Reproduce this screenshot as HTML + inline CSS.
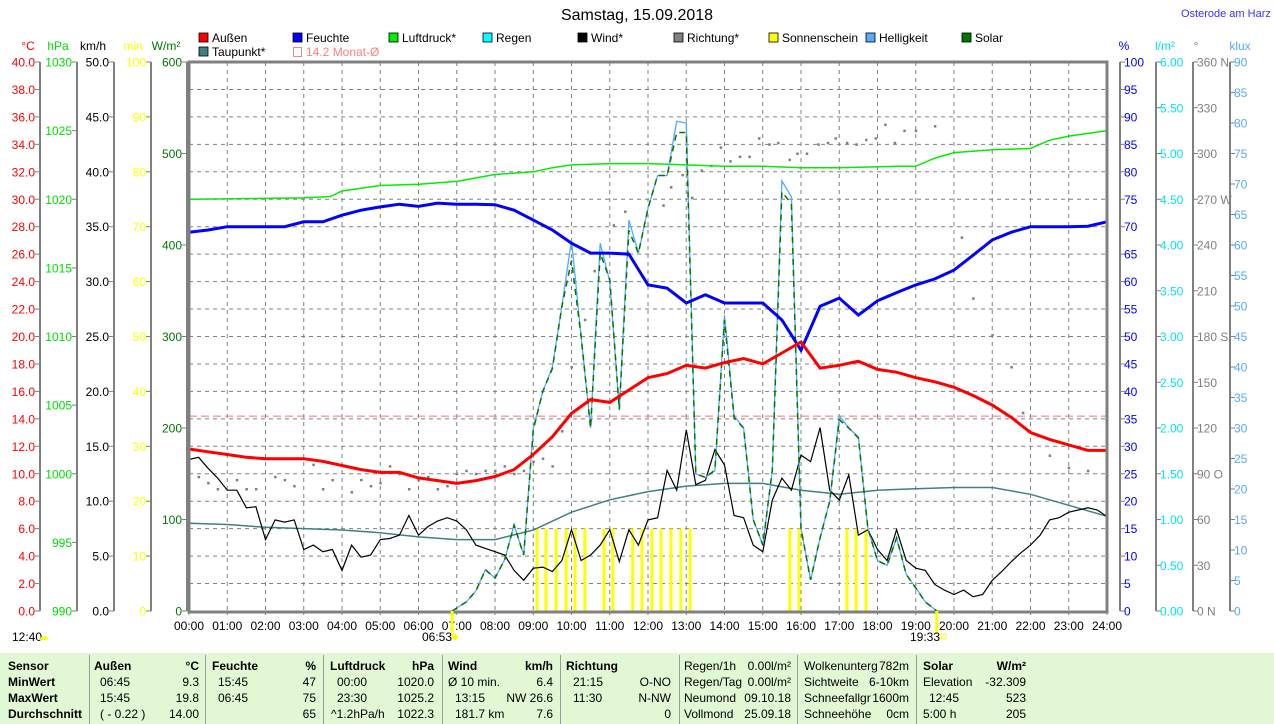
<!DOCTYPE html>
<html><head><meta charset="utf-8">
<style>
body{margin:0;background:#fff;width:1274px;height:724px;overflow:hidden;font-family:"Liberation Sans",sans-serif;}
#wrap{position:relative;width:1274px;height:724px;}
svg{position:absolute;left:0;top:0;}
.t{position:absolute;font-size:12px;white-space:nowrap;line-height:14px;}
.b{font-weight:bold;}
.r{text-align:right;}
#tbl{position:absolute;left:0;top:653px;width:1274px;height:71px;background:#e2f8d4;}
.sep{position:absolute;top:655px;width:1px;height:69px;background:#9a9a9a;}
</style></head><body>
<div id="wrap">
<svg id="chart" width="1274" height="724" font-family="Liberation Sans, sans-serif"></svg>
<div id="tbl"></div>
<div id="tbltext"></div>
</div>
<script>
const hours24=[0,1,2,3,4,5,6,7,8,9,10,11,12,13,14,15,16,17,18,19,20,21,22,23,24];
const tempHalf=[11.8,11.6,11.4,11.2,11.1,11.1,11.1,10.9,10.6,10.3,10.1,10.1,9.7,9.5,9.3,9.5,9.8,10.3,11.4,12.7,14.4,15.4,15.2,16.1,17.0,17.3,17.9,17.7,18.1,18.4,18.0,18.8,19.6,17.7,17.9,18.2,17.6,17.4,17.0,16.7,16.3,15.7,15.0,14.1,13.0,12.5,12.1,11.7,11.7];
const humHalf=[69.0,69.4,70,70,70,70,70.9,70.9,72.1,73,73.6,74.1,73.7,74.3,74.1,74.1,74,73,71.2,69.4,67,65.2,65.2,65,59.4,58.8,56.1,57.6,56.1,56.1,56.1,53,47.5,55.5,57,53.9,56.5,58,59.4,60.5,62.1,64.8,67.6,69,70,70,70,70.1,70.9];
const pressH=[0,3,3.7,4,5,6,7,8,9,9.5,10,11,12,13,14,15,16,17,18.5,19,19.5,20,21,22,22.5,23,24];
const pressV=[1020.0,1020.1,1020.2,1020.6,1021.0,1021.1,1021.3,1021.8,1022.0,1022.3,1022.5,1022.6,1022.6,1022.5,1022.4,1022.4,1022.3,1022.3,1022.4,1022.4,1023.0,1023.4,1023.6,1023.7,1024.3,1024.6,1025.0];
const dewV=[6.4,6.3,6.1,6.0,5.9,5.7,5.4,5.2,5.2,5.9,7.2,8.1,8.7,9.1,9.3,9.3,8.8,8.5,8.8,8.9,9.0,9.0,8.5,7.7,6.9];
const windQ=[13.8,14.0,13.0,12.1, 11.0,11.0,9.4,9.5, 6.5,8.3,8.1,8.3, 5.6,6.0,5.4,5.6, 3.7,6.0,4.9,5.1, 6.5,6.6,6.9,8.7, 6.9,7.7,8.2,8.5, 8.2,7.4,6.0,5.7, 5.4,5.1,3.7,2.8, 3.9,4.0,3.6,4.6, 7.4,4.6,5.1,6.0, 7.4,4.5,7.4,6.0, 8.3,8.5,12.8,11.0, 16.5,11.5,11.9,14.7, 13.3,8.7,8.5,6.0, 5.4,10.1,12.1,11.0, 14.2,13.6,16.7,11.0, 10.1,12.4,6.9,7.4, 5.6,4.6,7.4,4.6, 3.9,3.7,2.4,1.9, 1.5,1.9,1.3,1.5, 2.8,3.6,4.5,5.3, 6.0,6.9,8.3,8.5, 9.0,9.2,9.4,9.2, 8.6];
const solarH=[6.88,7.25,7.5,7.75,8,8.25,8.5,8.75,9,9.25,9.5,9.75,10,10.25,10.5,10.75,11,11.25,11.5,11.75,12,12.25,12.5,12.75,13,13.25,13.5,13.75,14,14.25,14.5,14.75,15,15.25,15.5,15.75,16,16.25,16.5,16.75,17,17.25,17.5,17.75,18,18.25,18.5,18.75,19,19.25,19.55];
const solarW=[0,10,22,45,36,56,94,61,198,240,265,333,383,300,200,391,362,220,416,391,440,476,476,523,523,150,146,154,318,211,200,100,72,154,458,445,90,34,80,120,209,200,189,90,55,50,80,40,25,10,0];
const luxK=[0,1.5,3.3,6.8,5.4,8.4,14.1,9.2,30,36,40,50,60.8,45,30,60.3,54,33,64.1,58.7,66,71.4,71.4,80.3,80,22.5,21.9,23,48.5,32,30,15,10.8,23,70.5,67.9,13.5,5.1,12,18,32,30,28.5,13.5,8.3,7.5,12,6,3.8,1.5,0];
const sunH=[9.1,9.33,9.6,9.86,10.09,10.35,10.85,11.08,11.6,11.84,12.1,12.34,12.6,12.86,13.1,15.71,15.95,17.2,17.44,17.7];
const sunMin=[15,15,15,15,15,15,15,15,15,15,15,15,15,15,15,15,15,15,15,15];
const dirH=[0.25,0.5,0.75,1.25,1.5,1.75,2.25,2.5,2.75,3.25,3.5,3.75,4.25,4.5,4.75,5.0,5.25,5.5,5.75,6.0,6.25,6.5,6.75,7.0,7.25,7.5,7.75,8.0,8.25,8.5,8.75,9.0,9.25,9.5,9.75,10.0,10.35,10.6,11.1,11.4,12.4,12.6,12.9,13.15,13.4,13.65,13.9,14.15,14.4,14.65,14.9,15.17,15.4,15.7,15.9,16.15,16.45,16.7,16.9,17.2,17.45,17.7,17.95,18.2,18.45,18.7,19.0,19.5,20.2,20.5,21.0,21.5,21.8,22.2,22.5,23.0,23.5];
const dirDeg=[88,84,80,86,80,80,88,86,82,96,80,86,78,86,82,84,95,90,80,86,88,80,82,90,92,90,92,92,95,90,92,98,100,95,118,160,191,223,253,262,266,278,286,271,289,292,304,295,298,298,310,306,307,296,300,300,306,307,310,307,306,309,310,319,307,315,315,318,245,205,181,160,130,115,102,94,92];
const avgTemp=[14.2];
const cTicks=[0,2,4,6,8,10,12,14,16,18,20,22,24,26,28,30,32,34,36,38,40];
const pTicks=[990,995,1000,1005,1010,1015,1020,1025,1030];
const vTicks=[0,5,10,15,20,25,30,35,40,45,50];
const mTicks=[0,10,20,30,40,50,60,70,80,90,100];
const wTicks=[0,100,200,300,400,500,600];
const hTicks=[0,5,10,15,20,25,30,35,40,45,50,55,60,65,70,75,80,85,90,95,100];
const rTicks=[0,0.5,1,1.5,2,2.5,3,3.5,4,4.5,5,5.5,6];
const dTicks=[0,30,60,90,120,150,180,210,240,270,300,330,360];
const kTicks=[0,5,10,15,20,25,30,35,40,45,50,55,60,65,70,75,80,85,90];

const X0=189,X1=1107,Y0=611,YT=62,PH=Y0-YT;
const X=h=>X0+h*(X1-X0)/24;
const yC=t=>Y0-t/40*PH, yP=p=>Y0-(p-990)/40*PH, yV=v=>Y0-v/50*PH, yM=m=>Y0-m/100*PH;
const yW=w=>Y0-w/600*PH, yH=h=>Y0-h/100*PH, yR=r=>Y0-r/6*PH, yD=d=>Y0-d/360*PH, yK=k=>Y0-k/90*PH;
const svg=document.getElementById('chart');
const NS='http://www.w3.org/2000/svg';
function mk(tag,at,parent){const e=document.createElementNS(NS,tag);for(const k in at)e.setAttribute(k,at[k]);(parent||svg).appendChild(e);return e;}
function txt(x,y,s,col,anchor,size){const e=mk('text',{x:x,y:y,fill:col,'font-size':size||12,'text-anchor':anchor||'start'});e.textContent=s;return e;}
function pts(xs,ys){return xs.map((x,i)=>x.toFixed(1)+','+ys[i].toFixed(1)).join(' ');}

for(let i=1;i<20;i++){const g=mk('line',{x1:X0,x2:X1,y1:Y0-i*PH/20,y2:Y0-i*PH/20,stroke:'#808080','stroke-dasharray':'4,4'});

}
for(let h=1;h<24;h++){const g=mk('line',{x1:X(h),x2:X(h),y1:YT,y2:Y0,stroke:'#808080','stroke-dasharray':'4,4'});

}
const avg=mk('line',{x1:X0,x2:X1,y1:yC(avgTemp[0]),y2:yC(avgTemp[0]),stroke:'#ff7070','stroke-dasharray':'8,4'});



sunH.forEach((h,i)=>{const b=mk('rect',{x:X(h)-1.5,y:yM(sunMin[i]),width:3,height:Y0-yM(sunMin[i]),fill:'#ffff00'});

});

dirH.forEach((h,i)=>{const d=mk('rect',{x:X(h)-1,y:yD(dirDeg[i])-1,width:2.5,height:2.5,fill:'#808080'});

});

const halfH=tempHalf.map((_,i)=>i*0.5);
const qH=windQ.map((_,i)=>i*0.25);
let l;
l=mk('polyline',{points:pts(pressH.map(X),pressV.map(yP)),fill:'none',stroke:'#00ee00','stroke-width':1.5});


l=mk('polyline',{points:pts(hours24.map(X),dewV.map(yC)),fill:'none',stroke:'#3f8080','stroke-width':1.5});


l=mk('polyline',{points:pts(qH.map(X),windQ.map(yV)),fill:'none',stroke:'#000','stroke-width':1.2});


l=mk('polyline',{points:pts(solarH.map(X),luxK.map(yK)),fill:'none',stroke:'#55aaff','stroke-width':1.3});


l=mk('polyline',{points:pts(solarH.map(X),solarW.map(yW)),fill:'none',stroke:'#007700','stroke-width':1.5,'stroke-dasharray':'6,5'});


l=mk('polyline',{points:pts(halfH.map(X),humHalf.map(yH)),fill:'none',stroke:'#0000ff','stroke-width':3});


l=mk('polyline',{points:pts(halfH.map(X),tempHalf.map(yC)),fill:'none',stroke:'#ff0000','stroke-width':3});



const fr=mk('path',{d:`M${X0},${YT} V${Y0+1} H${X1} V${YT} Z`,fill:'none',stroke:'#808080','stroke-width':3});



function axis(ax,ticks,yf,col,side,fmt,name,extra){
  const g=mk('g',{});
  
  
  mk('line',{x1:ax,x2:ax,y1:YT,y2:Y0,stroke:'#808080','stroke-width':2},g);
  ticks.forEach(v=>{const y=yf(v);
    mk('line',{x1:side<0?ax-5:ax,x2:side<0?ax:ax+5,y1:y,y2:y,stroke:'#808080'},g);
    const s=fmt(v)+(extra?extra(v):'');
    const t=mk('text',{x:side<0?ax-5:ax+4,y:y+4.5,fill:col,'font-size':12,'text-anchor':side<0?'end':'start'},g);t.textContent=s;});
}
axis(40,cTicks,yC,'#ff0000',-1,v=>v.toFixed(1),'celsius-axis');
axis(77,pTicks,yP,'#00dd00',-1,v=>String(v),'pressure-axis');
axis(114,vTicks,yV,'#000',-1,v=>v.toFixed(1),'wind-axis');
axis(151,mTicks,yM,'#ffff00',-1,v=>String(v),'sunshine-axis');
axis(187,wTicks,yW,'#007700',-1,v=>String(v),'solar-axis');
axis(1120,hTicks,yH,'#0000ff',1,v=>String(v),'humidity-axis');
axis(1156,rTicks,yR,'#00e5ee',1,v=>v.toFixed(2),'rain-axis');
axis(1193,dTicks,yD,'#808080',1,v=>String(v),'direction-axis',v=>({0:' N',90:' O',180:' S',270:' W',360:' N'}[v]||''));
axis(1230,kTicks,yK,'#55aaff',1,v=>String(v),'brightness-axis');

[[28,'°C','#ff0000'],[58,'hPa','#00dd00'],[93,'km/h','#000'],[133,'min','#ffff00'],[166,'W/m²','#007700'],[1124,'%','#0000ff'],[1165,'l/m²','#00e5ee'],[1196,'°','#808080'],[1240,'klux','#55aaff']].forEach(a=>{const t=txt(a[0],50,a[1],a[2],'middle');

});

for(let h=0;h<=24;h++){const t=txt(X(h),630,(h<10?'0':'')+h+':00','#000','middle');


mk('line',{x1:X(h),x2:X(h),y1:Y0,y2:Y0+4,stroke:'#808080'});}
mk('line',{x1:X(6.88),x2:X(6.88),y1:Y0,y2:Y0+22,stroke:'#ffff00','stroke-width':3});
mk('line',{x1:X(19.55),x2:X(19.55),y1:Y0,y2:Y0+22,stroke:'#ffff00','stroke-width':3});
let s=txt(437,641,'06:53','#000','middle');
mk('circle',{cx:455,cy:637,r:3,fill:'#ffff00'});
s=txt(925,641,'19:33','#000','middle');
mk('rect',{x:941,y:634,width:5,height:5,fill:'none',stroke:'#ffff00'});
s=txt(12,641,'12:40','#000');
mk('path',{d:'M40,640 a4,4 0 0 1 8,0 Z',fill:'#ffff00'});

s=txt(637,20,'Samstag, 15.09.2018','#000','middle',16);
s=txt(1181,17,'Osterode am Harz','#3333ff','start',11);

[[199,38,'Außen','#ff0000'],[293,38,'Feuchte','#0000ff'],[389,38,'Luftdruck*','#00ee00'],[483,38,'Regen','#00ffff'],[578,38,'Wind*','#000'],[674,38,'Richtung*','#808080'],[769,38,'Sonnenschein','#ffff00'],[866,38,'Helligkeit','#55aaff'],[962,38,'Solar','#007700'],[199,52,'Taupunkt*','#3f8080']].forEach(a=>{
  const g=mk('g',{});
  
  
  mk('rect',{x:a[0],y:a[1]-5,width:9,height:9,fill:a[3],stroke:'#000','stroke-width':0.8},g);
  const t=mk('text',{x:a[0]+13,y:a[1]+4,'font-size':12,fill:'#000'},g);t.textContent=a[2];});
{const g=mk('g',{});


mk('rect',{x:293.5,y:47.5,width:8,height:9,fill:'none',stroke:'#ff8080'},g);
const t=mk('text',{x:306,y:56,'font-size':12,fill:'#ff8080'},g);t.textContent='14.2 Monat-Ø';}

const T=document.getElementById('tbltext');
const rowsY=[659,675,691,707];
function cell(x,row,s,cls,right,name){const d=document.createElement('div');d.className='t '+(cls||'');


if(right){d.style.right=(1274-x)+'px';}else d.style.left=x+'px';d.style.top=rowsY[row]+'px';d.textContent=s;T.appendChild(d);}
[89,205,323,442,560,679,797,916].forEach(x=>{const d=document.createElement('div');d.className='sep';d.style.left=x+'px';

T.appendChild(d);});
['Sensor','MinWert','MaxWert','Durchschnitt'].forEach((s,i)=>cell(8,i,s,'b',false,'row-label'));
cell(94,0,'Außen','b');cell(199,0,'°C','b',true);
cell(100,1,'06:45');cell(199,1,'9.3','',true);cell(100,2,'15:45');cell(199,2,'19.8','',true);cell(100,3,'( - 0.22 )');cell(199,3,'14.00','',true);
cell(212,0,'Feuchte','b');cell(316,0,'%','b',true);
cell(218,1,'15:45');cell(316,1,'47','',true);cell(218,2,'06:45');cell(316,2,'75','',true);cell(316,3,'65','',true);
cell(330,0,'Luftdruck','b');cell(434,0,'hPa','b',true);
cell(337,1,'00:00');cell(434,1,'1020.0','',true);cell(337,2,'23:30');cell(434,2,'1025.2','',true);cell(331,3,'^1.2hPa/h');cell(434,3,'1022.3','',true);
cell(448,0,'Wind','b');cell(553,0,'km/h','b',true);
cell(448,1,'Ø 10 min.');cell(553,1,'6.4','',true);cell(455,2,'13:15');cell(553,2,'NW 26.6','',true);cell(455,3,'181.7 km');cell(553,3,'7.6','',true);
cell(566,0,'Richtung','b');cell(573,1,'21:15');cell(671,1,'O-NO','',true);cell(573,2,'11:30');cell(671,2,'N-NW','',true);cell(671,3,'0','',true);
cell(684,0,'Regen/1h');cell(791,0,'0.00l/m²','',true);cell(684,1,'Regen/Tag');cell(791,1,'0.00l/m²','',true);
cell(684,2,'Neumond');cell(791,2,'09.10.18','',true);cell(684,3,'Vollmond');cell(791,3,'25.09.18','',true);
cell(804,0,'Wolkenunterg');cell(909,0,'782m','',true);cell(804,1,'Sichtweite');cell(909,1,'6-10km','',true);
cell(804,2,'Schneefallgr');cell(909,2,'1600m','',true);cell(804,3,'Schneehöhe');cell(909,3,'0cm','',true);
cell(923,0,'Solar','b');cell(1026,0,'W/m²','b',true);cell(923,1,'Elevation');cell(1026,1,'-32.309','',true);
cell(929,2,'12:45');cell(1026,2,'523','',true);cell(923,3,'5:00 h');cell(1026,3,'205','',true);
</script>
</body></html>
